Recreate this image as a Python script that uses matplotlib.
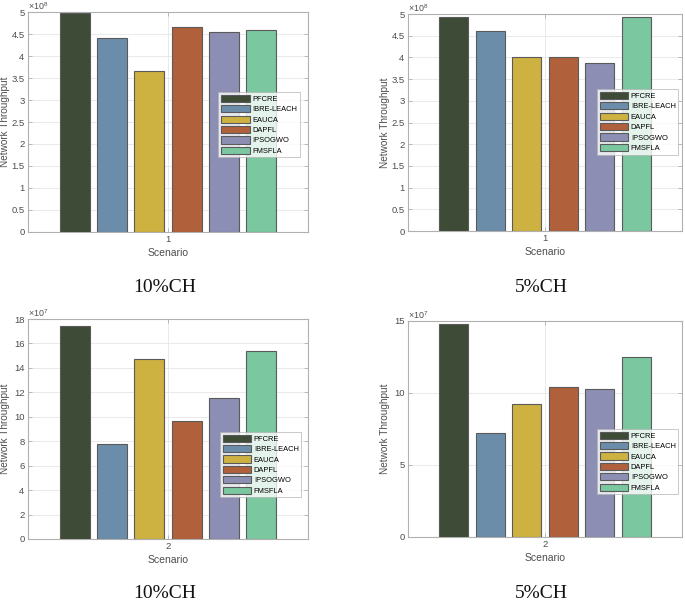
import matplotlib
matplotlib.use("Agg")
import matplotlib.pyplot as plt
from matplotlib.ticker import FuncFormatter
import numpy as np

# ---------------------------------------------------------------------------
# Data
# ---------------------------------------------------------------------------
methods = ["PFCRE", "IBRE-LEACH", "EAUCA", "DAPFL", "IPSOGWO", "FMSFLA"]
colors = ["#3e4c37", "#6b8daa", "#cdb141", "#b0613c", "#8c8fb3", "#7bc7a0"]

scenario_top = 1
scenario_bottom = 2

thr_10ch_s1 = [4.97e8, 4.41e8, 3.67e8, 4.65e8, 4.55e8, 4.58e8]
thr_5ch_s1 = [4.94e8, 4.61e8, 4.01e8, 4.02e8, 3.88e8, 4.93e8]
thr_10ch_s2 = [17.4e7, 7.8e7, 14.7e7, 9.66e7, 11.53e7, 15.42e7]
thr_5ch_s2 = [14.8e7, 7.25e7, 9.21e7, 10.4e7, 10.26e7, 12.48e7]

yticks_s1 = np.arange(0, 5.01e8, 0.5e8)
yticks_10ch_s2 = np.arange(0, 18.01e7, 2e7)
yticks_5ch_s2 = [0, 5e7, 10e7, 15e7]

captions = ["10%CH", "5%CH", "10%CH", "5%CH"]

plt.rcParams["font.family"] = ["Liberation Sans", "DejaVu Sans"]
plt.rcParams["mathtext.fontset"] = "custom"
plt.rcParams["mathtext.rm"] = "Liberation Sans"

fig = plt.figure(figsize=(6.85, 6.01), dpi=100)

panels = [
    # rect, values, scenario, yticks, ymax, exponent, legend anchor, caption y
    ([0.0409, 0.614, 0.4088, 0.366], thr_10ch_s1, scenario_top, yticks_s1, 5e8, 8, (0.68, 0.636), 288),
    ([0.5956, 0.6156, 0.4, 0.361], thr_5ch_s1, scenario_top, yticks_s1, 5e8, 8, (0.69, 0.654), 288),
    ([0.0409, 0.1032, 0.4088, 0.366], thr_10ch_s2, scenario_bottom, yticks_10ch_s2, 18e7, 7, (0.686, 0.486), 593),
    ([0.5956, 0.1065, 0.4, 0.3594], thr_5ch_s2, scenario_bottom, yticks_5ch_s2, 15e7, 7, (0.69, 0.50), 593),
]

n = len(methods)
group_w = 0.8
step = group_w / n
bar_w = step * 0.8

for (rect, vals, scen, yt, ymax, expo, anchor, cap_y), cap in zip(panels, captions):
    ax = fig.add_axes(rect)
    for i, (m, v, c) in enumerate(zip(methods, vals, colors)):
        x = scen + (i - (n - 1) / 2) * step
        ax.bar(x, v, width=bar_w, color=c, edgecolor="#5a5a5a",
               linewidth=0.8, label=m, zorder=3)

    ax.set_xlim(scen - 0.5, scen + 0.5)
    ax.set_ylim(0, ymax)
    ax.set_xticks([scen])
    ax.set_yticks(yt)
    ax.yaxis.set_major_formatter(
        FuncFormatter(lambda v, pos, e=expo: f"{v / 10**e:g}"))
    ax.text(0.0, 1.0, rf"$\times10^{{{expo}}}$", transform=ax.transAxes,
            fontsize=6.4, color="#4d4d4d", ha="left", va="bottom")

    ax.grid(True, color="#e6e6e6", linewidth=0.6, zorder=0)
    ax.set_axisbelow(True)
    for sp in ax.spines.values():
        sp.set_color("#b0b0b0")
        sp.set_linewidth(0.8)
    ax.tick_params(direction="in", length=3, width=0.6, color="#b0b0b0",
                   labelsize=6.8, labelcolor="#4d4d4d", top=True, right=True,
                   pad=2.5)

    ax.set_xlabel("Scenario", fontsize=7.5, color="#4d4d4d")
    ax.xaxis.set_label_coords(0.5, -0.075)
    ax.set_ylabel("Network Throughput", fontsize=7.2, color="#4d4d4d")
    ax.yaxis.set_label_coords(-0.064, 0.5)

    leg = ax.legend(loc="upper left", bbox_to_anchor=anchor, fontsize=5.4,
                    frameon=True, fancybox=False, borderpad=0.35,
                    labelspacing=0.3, handlelength=3.8, handleheight=1.1,
                    handletextpad=0.35, borderaxespad=0)
    leg.get_frame().set_edgecolor("#b0b0b0")
    leg.get_frame().set_linewidth(0.6)
    leg.set_zorder(5)

    cx = rect[0] + rect[2] / 2
    fig.text(cx - 0.005, 1 - cap_y / 601, cap, fontsize=14,
             family=["Liberation Serif", "DejaVu Serif"],
             ha="center", va="center", color="#111111")

fig.savefig("out.png", dpi=100)
